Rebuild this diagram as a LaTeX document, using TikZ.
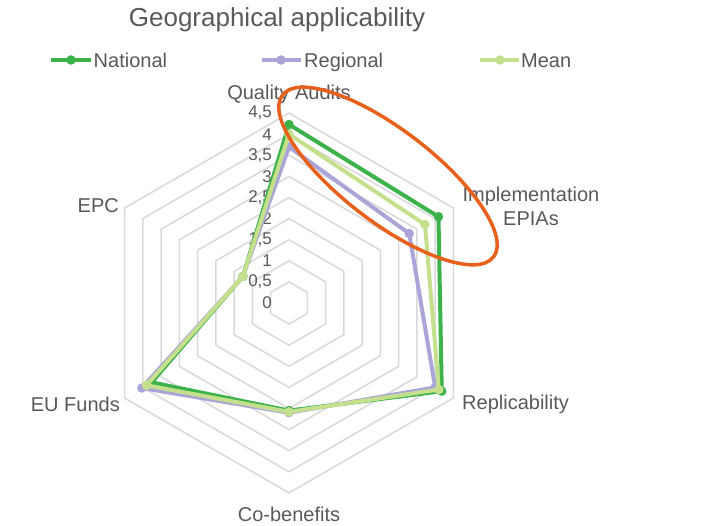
\documentclass[tikz,border=0pt]{standalone}
\usepackage{fontspec}
\setmainfont{Liberation Sans}
\usetikzlibrary{positioning}
\definecolor{national}{RGB}{60,179,74}
\definecolor{regional}{RGB}{170,164,216}
\definecolor{mean}{RGB}{197,224,140}
\definecolor{circled}{RGB}{232,97,28}
\definecolor{textgray}{RGB}{89,89,89}
\definecolor{gridgray}{RGB}{217,217,217}

\begin{document}
\begin{tikzpicture}[x=1pt,y=1pt,
	txt/.style={text=textgray,font=\fontsize{20}{24}\selectfont,inner sep=0pt},
	key/.style={txt,text height=14.5pt,text depth=4.5pt,anchor=west},
	tick/.style={text=textgray,font=\fontsize{17}{20}\selectfont,inner sep=0pt,anchor=east},
	grid/.style={draw=gridgray,line width=1.5pt,line join=round},
	series/.style={draw=#1,line width=4pt,line join=round},
	dot/.style={circle,fill=#1,inner sep=0pt,minimum size=9.5pt}]
	\useasboundingbox (0,0) rectangle (725,525);

	% title and legend
	\node[txt,font=\fontsize{26}{30}\selectfont] (title) at (277,505) {Geographical applicability};
	\coordinate (natA) at (51,465);
	\coordinate (natB) at (91,465);
	\draw[series=national] (natA) -- (natB);
	\node[dot=national] (natM) at (71,465) {};
	\node[key,right=2.5pt of natB,yshift=-2.2pt] (natL) {National};
	\coordinate (regA) at (262,465);
	\coordinate (regB) at (301,465);
	\draw[series=regional] (regA) -- (regB);
	\node[dot=regional] (regM) at (281,465) {};
	\node[key,right=3pt of regB,yshift=-2.2pt] (regL) {Regional};
	\coordinate (meaA) at (480,465);
	\coordinate (meaB) at (519,465);
	\draw[series=mean] (meaA) -- (meaB);
	\node[dot=mean] (meaM) at (500,465) {};
	\node[key,right=2pt of meaB,yshift=-2.2pt] (meaL) {Mean};

	% axis labels
	\node[txt] (qa) at (289,431) {Quality Audits};
	\node[txt,align=center] (epia) at (531,319) {Implementation\\EPIAs};
	\node[txt,anchor=west] (repl) at (462,121) {Replicability};
	\node[txt] (cob) at (289,11) {Co-benefits};
	\node[txt,anchor=east] (euf) at (120,121) {EU Funds};
	\node[txt,anchor=east] (epc) at (119,319) {EPC};

	\begin{scope}[shift={(289,222)},x=42.2pt,y=42.2pt]
		% grid
		\foreach \r in {0.5,1,...,4.5}
			\draw[grid] (90:\r) -- (30:\r) -- (-30:\r) -- (-90:\r) -- (-150:\r) -- (150:\r) -- cycle;
		\foreach \v/\t in {0/0,0.5/{0,5},1/1,1.5/{1,5},2/2,2.5/{2,5},3/3,3.5/{3,5},4/4,4.5/{4,5}}
			\node[tick] at (-0.4,\v) {\t};

		% National
		\path (90:4.23) coordinate (n1) (30:4.09) coordinate (n2) (-30:4.18) coordinate (n3)
			(-90:2.55) coordinate (n4) (-150:3.76) coordinate (n5) (150:1.26) coordinate (n6);
		\draw[series=national] (n1) -- (n2) -- (n3) -- (n4) -- (n5) -- (n6) -- cycle;
		\foreach \i in {1,...,6} \node[dot=national] at (n\i) {};

		% Regional
		\path (90:3.7) coordinate (r1) (30:3.29) coordinate (r2) (-30:4.0) coordinate (r3)
			(-90:2.6) coordinate (r4) (-150:4.03) coordinate (r5) (150:1.26) coordinate (r6);
		\draw[series=regional] (r1) -- (r2) -- (r3) -- (r4) -- (r5) -- (r6) -- cycle;
		\foreach \i in {1,...,6} \node[dot=regional] at (r\i) {};

		% Mean
		\path (90:4.0) coordinate (m1) (30:3.72) coordinate (m2) (-30:4.1) coordinate (m3)
			(-90:2.58) coordinate (m4) (-150:3.9) coordinate (m5) (150:1.26) coordinate (m6);
		\draw[series=mean] (m1) -- (m2) -- (m3) -- (m4) -- (m5) -- (m6) -- cycle;
		\foreach \i in {1,...,6} \node[dot=mean] at (m\i) {};
	\end{scope}

	% highlight
	\draw[circled,line width=3.5pt,rotate around={-37.5:(388,349)}] (388,349) ellipse [x radius=133,y radius=46];
\end{tikzpicture}
\end{document}
